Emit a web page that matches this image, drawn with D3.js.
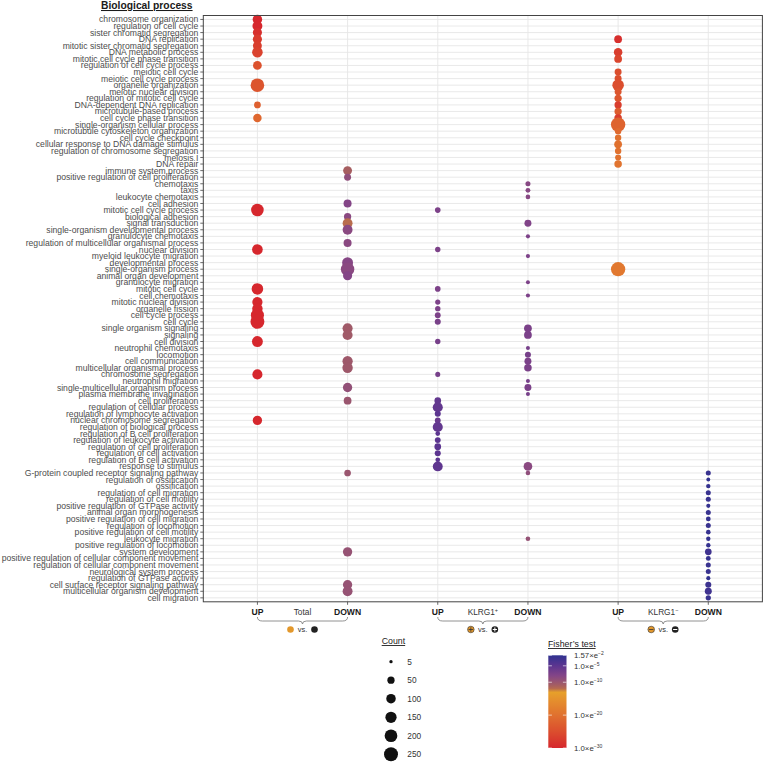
<!DOCTYPE html>
<html>
<head>
<meta charset="utf-8">
<script src="https://cdn.jsdelivr.net/npm/d3@7/dist/d3.min.js"></script>
<style>
  body { margin: 0; background: #fff; }
  svg { display: block; font-family: "Liberation Sans", Arial, Helvetica, sans-serif; }
</style>
</head>
<body>
<svg id="chart" width="763" height="762"></svg>
<script>
// ---------------- DATA ----------------
const terms = [
  "chromosome organization","regulation of cell cycle","sister chromatid segregation","DNA replication",
  "mitotic sister chromatid segregation","DNA metabolic process","mitotic cell cycle phase transition",
  "regulation of cell cycle process","meiotic cell cycle","meiotic cell cycle process","organelle organization",
  "meiotic nuclear division","regulation of mitotic cell cycle","DNA-dependent DNA replication",
  "microtubule-based process","cell cycle phase transition","single-organism cellular process",
  "microtubule cytoskeleton organization","cell cycle checkpoint","cellular response to DNA damage stimulus",
  "regulation of chromosome segregation","meiosis I","DNA repair","immune system process",
  "positive regulation of cell proliferation","chemotaxis","taxis","leukocyte chemotaxis","cell adhesion",
  "mitotic cell cycle process","biological adhesion","signal transduction","single-organism developmental process",
  "granulocyte chemotaxis","regulation of multicellular organismal process","nuclear division",
  "myeloid leukocyte migration","developmental process","single-organism process","animal organ development",
  "granulocyte migration","mitotic cell cycle","cell chemotaxis","mitotic nuclear division","organelle fission",
  "cell cycle process","cell cycle","single organism signaling","signaling","cell division","neutrophil chemotaxis",
  "locomotion","cell communication","multicellular organismal process","chromosome segregation",
  "neutrophil migration","single-multicellular organism process","plasma membrane invagination",
  "cell proliferation","regulation of cellular process","regulation of lymphocyte activation",
  "nuclear chromosome segregation","regulation of biological process","regulation of B cell proliferation",
  "regulation of leukocyte activation","regulation of cell proliferation","regulation of cell activation",
  "regulation of B cell activation","response to stimulus","G-protein coupled receptor signaling pathway",
  "regulation of ossification","ossification","regulation of cell migration","regulation of cell motility",
  "positive regulation of GTPase activity","animal organ morphogenesis","positive regulation of cell migration",
  "regulation of locomotion","positive regulation of cell motility","leukocyte migration",
  "positive regulation of locomotion","system development","positive regulation of cellular component movement",
  "regulation of cellular component movement","neurological system process","regulation of GTPase activity",
  "cell surface receptor signaling pathway","multicellular organism development","cell migration"
];

const columns = ["Total UP","Total DOWN","KLRG1+ UP","KLRG1+ DOWN","KLRG1- UP","KLRG1- DOWN"];
const axisLabels = ["UP","DOWN","UP","DOWN","UP","DOWN"];

// [term, count, log10(Fisher p)]
const totalUp = [
  ["chromosome organization",100,-30],["regulation of cell cycle",110,-30],["sister chromatid segregation",90,-29],
  ["DNA replication",90,-27.5],["mitotic sister chromatid segregation",85,-27],["DNA metabolic process",130,-26.5],
  ["regulation of cell cycle process",82,-24.5],["organelle organization",235,-24],
  ["DNA-dependent DNA replication",42,-22.5],["cell cycle phase transition",75,-21.5],
  ["mitotic cell cycle process",197,-30],["nuclear division",133,-30],["mitotic cell cycle",160,-30],
  ["mitotic nuclear division",120,-30],["organelle fission",125,-30],["cell cycle process",215,-30],
  ["cell cycle",250,-30],["cell division",140,-30],["chromosome segregation",115,-30],
  ["nuclear chromosome segregation",95,-30]
];
const totalDown = [
  ["immune system process",85,-11],["positive regulation of cell proliferation",45,-9],["cell adhesion",65,-8],
  ["biological adhesion",50,-8.5],["signal transduction",110,-12],["single-organism developmental process",110,-8.5],
  ["regulation of multicellular organismal process",65,-8.5],["developmental process",140,-8.2],
  ["single-organism process",230,-8.5],["animal organ development",90,-8],["single organism signaling",115,-10.5],
  ["signaling",115,-10.5],["cell communication",120,-10.3],["multicellular organismal process",125,-10.3],
  ["single-multicellular organism process",95,-9.3],["cell proliferation",60,-10],
  ["G-protein coupled receptor signaling pathway",40,-10],["system development",95,-9.6],
  ["cell surface receptor signaling pathway",95,-9.6],["multicellular organism development",110,-9.6]
];
const klrgPosUp = [
  ["mitotic cell cycle process",25,-7.5],["nuclear division",22,-7.5],["mitotic cell cycle",25,-7.5],
  ["mitotic nuclear division",20,-7.5],["organelle fission",22,-7.5],["cell cycle process",28,-7.5],
  ["cell cycle",30,-7.2],["cell division",22,-7],["chromosome segregation",18,-7],["cell proliferation",40,-5.5],
  ["regulation of cellular process",115,-5.5],["regulation of lymphocyte activation",30,-5],
  ["nuclear chromosome segregation",28,-6],["regulation of biological process",115,-5.5],
  ["regulation of B cell proliferation",15,-5],["regulation of leukocyte activation",28,-5],
  ["regulation of cell proliferation",40,-5],["regulation of cell activation",30,-5],
  ["regulation of B cell activation",15,-5],["response to stimulus",110,-5.2]
];
const klrgPosDown = [
  ["chemotaxis",18,-8.3],["taxis",16,-8.3],["leukocyte chemotaxis",14,-8.3],["signal transduction",45,-7.8],
  ["granulocyte chemotaxis",10,-7.5],["myeloid leukocyte migration",10,-7.5],["granulocyte migration",9,-7.5],
  ["cell chemotaxis",10,-7.5],["single organism signaling",60,-7.3],["signaling",60,-7.3],
  ["neutrophil chemotaxis",9,-7],["locomotion",30,-7],["cell communication",45,-7.3],
  ["multicellular organismal process",55,-7.3],["neutrophil migration",9,-7],
  ["single-multicellular organism process",45,-7.3],["plasma membrane invagination",9,-7],
  ["response to stimulus",80,-8.5],["G-protein coupled receptor signaling pathway",14,-9],
  ["leukocyte migration",14,-9.5]
];
const klrgNegUp = [
  ["DNA replication",60,-29],["DNA metabolic process",75,-27],["mitotic cell cycle phase transition",60,-26],
  ["meiotic cell cycle",45,-25],["meiotic cell cycle process",45,-25],["organelle organization",160,-25],
  ["meiotic nuclear division",45,-24],["regulation of mitotic cell cycle",50,-24],
  ["DNA-dependent DNA replication",50,-27],["microtubule-based process",50,-23],
  ["cell cycle phase transition",55,-27],["single-organism cellular process",270,-22],
  ["microtubule cytoskeleton organization",35,-21],["cell cycle checkpoint",35,-20],
  ["cellular response to DNA damage stimulus",60,-20],["regulation of chromosome segregation",35,-20],
  ["meiosis I",30,-20],["DNA repair",55,-19.5],["single-organism process",265,-19]
];
const klrgNegDown = [
  ["G-protein coupled receptor signaling pathway",18,-2.5],["regulation of ossification",8,-2],
  ["ossification",12,-2.2],["regulation of cell migration",18,-2.5],["regulation of cell motility",18,-2.5],
  ["positive regulation of GTPase activity",10,-2.2],["animal organ morphogenesis",18,-2.5],
  ["positive regulation of cell migration",15,-2.3],["regulation of locomotion",18,-2.5],
  ["positive regulation of cell motility",14,-2.3],["leukocyte migration",12,-2.2],
  ["positive regulation of locomotion",12,-2.2],["system development",40,-3],
  ["positive regulation of cellular component movement",16,-2.3],
  ["regulation of cellular component movement",18,-2.5],["neurological system process",18,-2.5],
  ["regulation of GTPase activity",10,-2],["cell surface receptor signaling pathway",30,-2.8],
  ["multicellular organism development",45,-3],["cell migration",20,-2.5]
];
const seriesByColumn = [totalUp,totalDown,klrgPosUp,klrgPosDown,klrgNegUp,klrgNegDown];

const groups = ["Total","KLRG1","KLRG1"];
const groupSup = ["","+","\u2212"];
const countBreaks = [5,50,100,150,200,250];
const fisherBreaks = [-1.804,-5,-10,-20,-30];
const fisherMantissa = ["1.57","1.0","1.0","1.0","1.0"];
const fisherExp = ["\u22122","\u22125","\u221210","\u221220","\u221230"];

// ---------------- SCALES ----------------
const svg = d3.select("#chart");
const P = {x0: 203.3, x1: 762.4, y0: 15.5, y1: 601.8};

const x = d3.scalePoint().domain(columns).range([P.x0, P.x1]).padding(0.6);
const y = d3.scalePoint().domain(terms).range([P.y0, P.y1]).padding(0.6);
const rInner = d3.scaleSqrt().domain([0, 258]).range([0, 6.1]);
const r = c => 1.0 + rInner(Math.max(0, c - 2));
const color = d3.scaleLinear()
  .domain([-30,-25,-20,-15,-13,-12,-11,-10,-8,-5,-1.804])
  .range(["#d6272d","#db4e2e","#e0712f","#e5922d","#e7a12a","#b86c4d","#a65e60","#9a566f","#844587","#5c3590","#2f3290"])
  .interpolate(d3.interpolateRgb).clamp(true);

// ---------------- PANEL ----------------
svg.append("rect").attr("width",763).attr("height",762).attr("fill","#fff");
const grid = svg.append("g");
grid.selectAll("line.h").data(terms).join("line")
  .attr("x1",P.x0).attr("x2",P.x1).attr("y1",d=>y(d)).attr("y2",d=>y(d))
  .attr("stroke","#e6e6e6").attr("stroke-width",0.9);
grid.selectAll("line.v").data(columns).join("line")
  .attr("x1",d=>x(d)).attr("x2",d=>x(d)).attr("y1",P.y0).attr("y2",P.y1)
  .attr("stroke","#e6e6e6").attr("stroke-width",0.9);

// dots
const dots = svg.append("g");
seriesByColumn.forEach((ser, ci) => {
  dots.selectAll(null).data(ser).join("circle")
    .attr("cx", x(columns[ci])).attr("cy", d => y(d[0]))
    .attr("r", d => r(d[1])).attr("fill", d => color(d[2]));
});

svg.append("rect").attr("x",P.x0).attr("y",P.y0).attr("width",P.x1-P.x0).attr("height",P.y1-P.y0)
  .attr("fill","none").attr("stroke","#444").attr("stroke-width",1);

// y axis
const yAxis = svg.append("g");
yAxis.selectAll("line").data(terms).join("line")
  .attr("x1",P.x0-3).attr("x2",P.x0).attr("y1",d=>y(d)).attr("y2",d=>y(d))
  .attr("stroke","#444").attr("stroke-width",0.8);
yAxis.selectAll("text").data(terms).join("text")
  .attr("x",P.x0-5).attr("y",d=>y(d)).attr("dy","0.35em")
  .attr("text-anchor","end").attr("font-size",8.65).attr("fill","#4d4d4d").text(d=>d);

// x axis
const xAxis = svg.append("g");
xAxis.selectAll("line").data(columns).join("line")
  .attr("x1",d=>x(d)).attr("x2",d=>x(d)).attr("y1",P.y1).attr("y2",P.y1+3)
  .attr("stroke","#444").attr("stroke-width",0.8);
xAxis.selectAll("text").data(columns).join("text")
  .attr("x",d=>x(d)).attr("y",615).attr("text-anchor","middle")
  .attr("font-size",8.6).attr("font-weight","bold").attr("fill","#1a1a1a")
  .text((d,i)=>axisLabels[i]);

// group labels, braces and vs. legends
groups.forEach((g, gi) => {
  const xa = x(columns[gi*2]), xb = x(columns[gi*2+1]), m = (xa+xb)/2;
  const t = svg.append("text").attr("x",m).attr("y",615).attr("text-anchor","middle")
    .attr("font-size",8.3).attr("fill","#333");
  t.append("tspan").text(g);
  if (groupSup[gi]) t.append("tspan").attr("dy",-3).attr("font-size",5.5).text(groupSup[gi]);

  const yt = 617, yl = 621, yd = 624;
  svg.append("path")
    .attr("d", `M${xa},${yt} Q${xa},${yl} ${xa+5},${yl} L${m-4},${yl} Q${m},${yl} ${m},${yd} Q${m},${yl} ${m+4},${yl} L${xb-5},${yl} Q${xb},${yl} ${xb},${yt}`)
    .attr("fill","none").attr("stroke","#777").attr("stroke-width",0.8);

  const vy = 629.5, cr = 3.3;
  const oc = svg.append("g").attr("transform",`translate(${m-12},${vy})`);
  oc.append("circle").attr("r",cr).attr("fill","#e3982c")
    .attr("stroke", gi ? "#333" : "none").attr("stroke-width",0.6);
  const bc = svg.append("g").attr("transform",`translate(${m+12},${vy})`);
  bc.append("circle").attr("r",cr).attr("fill","#222");
  if (gi > 0) {
    oc.append("line").attr("x1",-2.3).attr("x2",2.3).attr("stroke","#333").attr("stroke-width",0.8);
    bc.append("line").attr("x1",-2.1).attr("x2",2.1).attr("stroke","#fff").attr("stroke-width",1);
    if (gi === 1) {
      oc.append("line").attr("y1",-2.3).attr("y2",2.3).attr("stroke","#333").attr("stroke-width",0.8);
      bc.append("line").attr("y1",-2.1).attr("y2",2.1).attr("stroke","#fff").attr("stroke-width",1);
    }
  }
  svg.append("text").attr("x",m).attr("y",632).attr("text-anchor","middle")
    .attr("font-size",7.5).attr("fill","#333").text("vs.");
});

// title
svg.append("text").attr("x",101).attr("y",9).attr("font-size",10.3).attr("font-weight","bold")
  .attr("fill","#1a1a1a").attr("text-decoration","underline").text("Biological process");

// ---------------- COUNT LEGEND ----------------
const cl = svg.append("g");
cl.append("text").attr("x",381.7).attr("y",644).attr("font-size",8.8).attr("fill","#1a1a1a")
  .attr("text-decoration","underline").text("Count");
const cy = d3.scalePoint().domain(countBreaks).range([661.7, 754.3]);
cl.selectAll("circle").data(countBreaks).join("circle")
  .attr("cx",391).attr("cy",d=>cy(d)).attr("r",d=>r(d)).attr("fill","#111");
cl.selectAll("text.lab").data(countBreaks).join("text").attr("class","lab")
  .attr("x",407.3).attr("y",d=>cy(d)).attr("dy","0.35em").attr("font-size",8.3).attr("fill","#333").text(d=>d);

// ---------------- FISHER LEGEND ----------------
const fl = svg.append("g");
fl.append("text").attr("x",548).attr("y",647).attr("font-size",8.8).attr("fill","#1a1a1a")
  .attr("text-decoration","underline").text("Fisher\u2019s test");
const barTop = 655.3, barBot = 748, barX = 548.3, barW = 18.2;
const fy = d3.scaleLinear().domain([-30,-1.804]).range([barBot, barTop]);
const defs = svg.append("defs");
const lg = defs.append("linearGradient").attr("id","fgrad").attr("x1",0).attr("x2",0).attr("y1",1).attr("y2",0);
d3.range(0, 1.0001, 0.02).forEach(t => {
  const v = -30 + t*(30-1.804);
  lg.append("stop").attr("offset",t).attr("stop-color",color(v));
});
fl.append("rect").attr("x",barX).attr("y",barTop).attr("width",barW).attr("height",barBot-barTop).attr("fill","url(#fgrad)");
fisherBreaks.forEach((b,i) => {
  const yy = fy(b);
  fl.append("line").attr("x1",barX).attr("x2",barX+3.6).attr("y1",yy).attr("y2",yy).attr("stroke","#fff").attr("stroke-opacity",0.7).attr("stroke-width",0.9);
  fl.append("line").attr("x1",barX+barW-3.6).attr("x2",barX+barW).attr("y1",yy).attr("y2",yy).attr("stroke","#fff").attr("stroke-opacity",0.7).attr("stroke-width",0.9);
  const t = fl.append("text").attr("x",574).attr("y",yy).attr("dy","0.35em").attr("font-size",7.8).attr("fill","#333");
  t.append("tspan").text(fisherMantissa[i] + "\u00d7e");
  t.append("tspan").attr("dy",-3).attr("font-size",5).text(fisherExp[i]);
});
</script>
</body>
</html>
